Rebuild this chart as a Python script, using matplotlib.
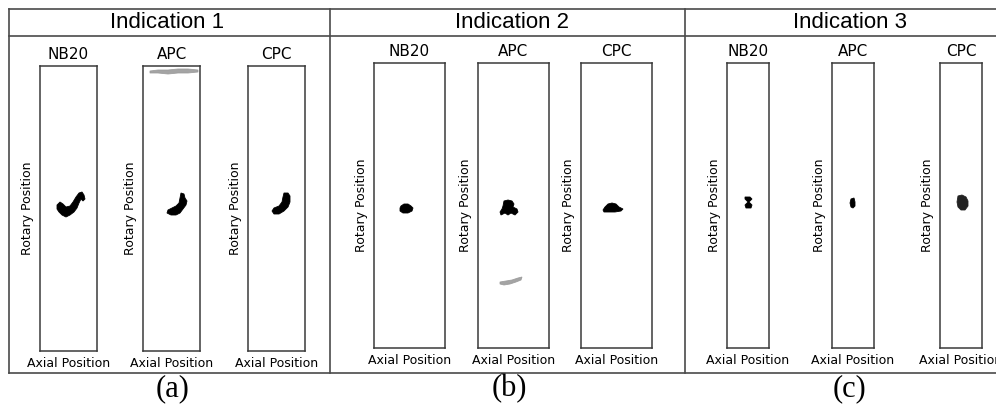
import matplotlib
matplotlib.use("Agg")
import matplotlib.pyplot as plt

# three indications, each seen by three probes
indications = ["Indication 1", "Indication 2", "Indication 3"]
sensors = ["NB20", "APC", "CPC"]
panel_tags = ["(a)", "(b)", "(c)"]

# scan extent per indication (axial samples, rotary samples)
axial_len = [57, 71, 42]
rotary_len = [285, 285, 285]

# indication outlines as (axial, rotary) sample positions, rotary counted from the top
ind1_nb20 = [(17, 139), (20, 136), (23, 138), (26, 141), (30, 140), (33, 136), (36, 131), (39, 127),
             (42, 126), (44, 129), (45, 133), (43, 135), (41, 133), (39, 137), (37, 142), (34, 146),
             (30, 149), (26, 151), (22, 149), (19, 146), (17, 143)]
ind1_apc = [(38, 127), (41, 128), (42, 132), (44, 135), (43, 139), (40, 143), (37, 147), (33, 149),
            (28, 149), (24, 147), (25, 144), (29, 142), (33, 140), (36, 137), (37, 132)]
ind1_cpc = [(36, 127), (40, 127), (42, 130), (42, 136), (40, 141), (36, 145), (31, 148), (26, 148),
            (24, 145), (26, 142), (31, 140), (34, 136), (35, 131)]
ind2_nb20 = [(27, 143), (30, 141), (34, 141), (37, 143), (39, 145), (38, 148), (34, 150), (29, 150),
             (26, 148), (26, 145)]
ind2_apc = [(26, 138), (30, 137), (34, 138), (36, 141), (35, 144), (39, 146), (40, 149), (37, 152),
            (33, 150), (30, 152), (27, 150), (23, 152), (22, 149), (24, 146), (25, 143)]
ind2_cpc = [(22, 147), (24, 144), (27, 141), (31, 140), (35, 141), (38, 144), (40, 145), (42, 146),
            (40, 148), (34, 149), (27, 149), (23, 149)]
ind3_nb20 = [(18, 134), (23, 134), (25, 136), (22, 139), (25, 142), (24, 145), (19, 145), (18, 142),
             (21, 139), (18, 136)]
ind3_apc = [(19, 136), (22, 135), (23, 139), (23, 143), (21, 145), (19, 144), (18, 140)]
ind3_cpc = [(18, 133), (22, 132), (26, 134), (28, 138), (28, 143), (25, 147), (21, 147), (18, 144),
            (17, 139)]

# weak (grey) responses picked up by APC only
ind1_apc_noise = [(7, 5), (15, 4), (25, 4), (35, 3), (45, 3), (55, 4), (55, 6), (45, 7), (35, 7),
                  (25, 8), (15, 7), (7, 7)]
ind2_apc_noise = [(22, 219), (28, 218), (34, 217), (40, 215), (44, 214), (43, 217), (38, 219),
                  (32, 221), (26, 222), (22, 221)]

outlines = [[ind1_nb20, ind1_apc, ind1_cpc],
            [ind2_nb20, ind2_apc, ind2_cpc],
            [ind3_nb20, ind3_apc, ind3_cpc]]
noise = {(0, 1): ind1_apc_noise, (1, 1): ind2_apc_noise}
blob_colors = [["black", "black", "black"],
               ["black", "black", "black"],
               ["black", "black", "#222222"]]

# layout in pixels of the 996x408 figure
W, H = 996, 408
ax_left = [[40, 143, 248], [374, 478, 581], [727, 832, 940]]
ax_top = [66, 63, 63]
header_x = [167, 512, 850]
tag_x = [173, 509, 849]
frame_col = "#4a4a4a"

fig = plt.figure(figsize=(W / 100, H / 100), dpi=100)

# background frame with headers and panel tags
bg = fig.add_axes([0, 0, 1, 1])
bg.set_xlim(0, W)
bg.set_ylim(H, 0)
bg.axis("off")
bg.plot([9, W], [9, 9], color=frame_col, lw=1.2)
bg.plot([9, W], [36, 36], color=frame_col, lw=1.2)
bg.plot([9, W], [373, 373], color=frame_col, lw=1.2)
for xs in [9, 330, 685]:
    bg.plot([xs, xs], [9, 373], color=frame_col, lw=1.2)
for i, name in enumerate(indications):
    bg.text(header_x[i], 23, name, ha="center", va="center", fontsize=16,
            family="Liberation Sans")
    bg.text(tag_x[i], 389, panel_tags[i], ha="center", va="center", fontsize=22,
            family="Liberation Serif")

for i in range(3):
    for j, sensor in enumerate(sensors):
        w, h = axial_len[i], rotary_len[i]
        rect = [ax_left[i][j] / W, 1 - (ax_top[i] + h) / H, w / W, h / H]
        ax = fig.add_axes(rect)
        ax.set_xlim(0, w)
        ax.set_ylim(h, 0)
        ax.set_xticks([])
        ax.set_yticks([])
        for sp in ax.spines.values():
            sp.set_color("#3a3a3a")
            sp.set_linewidth(1.1)
        if (i, j) in noise:
            pts = noise[(i, j)]
            ax.fill([p[0] for p in pts], [p[1] for p in pts], color="#9a9a9a",
                    lw=0.6, alpha=0.9)
        pts = outlines[i][j]
        ax.fill([p[0] for p in pts], [p[1] for p in pts], color=blob_colors[i][j], lw=0.6)
        ax.set_title(sensor, fontsize=11, pad=5)
        ax.set_ylabel("Rotary Position", fontsize=9, labelpad=4)
        ax.set_xlabel("Axial Position", fontsize=9, labelpad=4)

fig.savefig("out.png", dpi=100)
